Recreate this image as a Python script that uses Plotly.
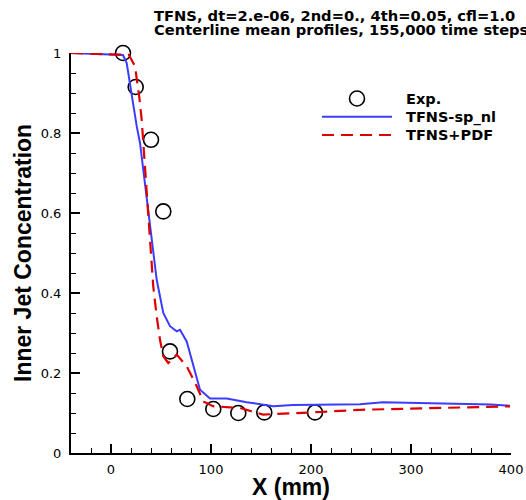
import plotly.graph_objects as go

# Experimental data
exp_x = [12, 24.7, 40, 52.3, 59, 76.3, 102.3, 127.3, 153.3, 204]
exp_y = [1.0, 0.915, 0.783, 0.604, 0.254, 0.135, 0.11, 0.10, 0.1015, 0.1015]

# TFNS-sp_nl (blue solid)
sp_x = [-40, 12, 15.7, 19, 22.3, 25.7, 29, 32.3, 35.7, 39, 45.7, 52.3, 59, 65.7, 69, 75.7,
        82.3, 89, 99, 115.7, 135.7, 152.3, 162.3, 182, 215, 249, 272, 316, 349, 380, 399]
sp_y = [1.0, 0.995, 0.975, 0.92, 0.867, 0.817, 0.775, 0.708, 0.625, 0.558, 0.433, 0.35, 0.317,
        0.304, 0.308, 0.279, 0.217, 0.158, 0.136, 0.136, 0.127, 0.121, 0.117, 0.12, 0.121,
        0.122, 0.127, 0.125, 0.123, 0.121, 0.118]

# TFNS+PDF (red dashed)
pdf_x = [-40, 18, 24, 28.3, 30.7, 34, 37.3, 42.3, 45.7, 49, 52.3, 57.3, 65.7, 75.7, 85.7,
         92.3, 102, 129, 152, 176, 209, 249, 282, 349, 399]
pdf_y = [1.0, 0.995, 0.967, 0.89, 0.833, 0.708, 0.592, 0.415, 0.342, 0.283, 0.242, 0.225,
         0.246, 0.217, 0.167, 0.129, 0.117, 0.1125, 0.096, 0.098, 0.1025, 0.108, 0.11,
         0.115, 0.1167]

series_names = ["Exp.", "TFNS-sp_nl", "TFNS+PDF"]
title_lines = ["TFNS, dt=2.e-06, 2nd=0., 4th=0.05, cfl=1.0",
               "Centerline mean profiles, 155,000 time steps"]
x_title = "X (mm)"
y_title = "Inner Jet Concentration"

BLUE = "rgb(60,60,255)"
RED = "rgb(220,0,0)"
BOLD = "DejaVu Sans"
ARIALB = "Liberation Sans, Arial, sans-serif"

W, H = 526, 500
L, R, T, B = 71, 15, 53, 47
PW, PH = W - L - R, H - T - B


def px(x):
    return (x - L) / PW


def py(y):
    return (H - B - y) / PH


fig = go.Figure()
fig.add_trace(go.Scatter(x=exp_x, y=exp_y, mode="markers", name=series_names[0],
                         marker=dict(symbol="circle-open", size=15, color="black",
                                     line=dict(width=1.6, color="black")),
                         cliponaxis=False, showlegend=False))
fig.add_trace(go.Scatter(x=sp_x, y=sp_y, mode="lines", name=series_names[1],
                         line=dict(color=BLUE, width=2), cliponaxis=False, showlegend=False))
fig.add_trace(go.Scatter(x=pdf_x, y=pdf_y, mode="lines", name=series_names[2],
                         line=dict(color=RED, width=2.2, dash="12px,7px"),
                         cliponaxis=False, showlegend=False))

# manual legend (Tecplot style)
shapes = [
    dict(type="circle", xref="paper", yref="paper",
         x0=px(357 - 7.5), x1=px(357 + 7.5), y0=py(98.5 + 7.5), y1=py(98.5 - 7.5),
         line=dict(color="black", width=1.6)),
    dict(type="line", xref="paper", yref="paper", x0=px(322), x1=px(392),
         y0=py(116.7), y1=py(116.7), line=dict(color=BLUE, width=2)),
    dict(type="line", xref="paper", yref="paper", x0=px(322), x1=px(392),
         y0=py(135), y1=py(135), line=dict(color=RED, width=2.2, dash="12px,7px")),
]
annotations = []
for name, ypx in zip(series_names, [99.5, 117, 135]):
    annotations.append(dict(xref="paper", yref="paper", x=px(404), y=py(ypx),
                            xanchor="left", yanchor="middle", showarrow=False, text=name,
                            font=dict(family=BOLD, size=14.5, weight="bold", color="black")))
for line, ypx in zip(title_lines, [15.5, 30]):
    annotations.append(dict(xref="paper", yref="paper", x=px(152), y=py(ypx),
                            xanchor="left", yanchor="middle", showarrow=False, text=line,
                            font=dict(family=BOLD, size=14.7, weight="bold", color="black")))
annotations.append(dict(xref="paper", yref="paper", x=0.5, y=py(487), xanchor="center",
                        yanchor="middle", showarrow=False, text=x_title,
                        font=dict(family=ARIALB, size=23, weight="bold", color="black")))
annotations.append(dict(xref="paper", yref="paper", x=px(23), y=0.5, xanchor="center",
                        yanchor="middle", showarrow=False, text=y_title, textangle=-90,
                        font=dict(family=ARIALB, size=23, weight="bold", color="black")))

axis_common = dict(showgrid=False, zeroline=False, showline=True, linecolor="black",
                   linewidth=2, ticks="inside", ticklen=9, tickwidth=2, tickcolor="black",
                   automargin=False, tickfont=dict(family="DejaVu Sans", size=13, color="black"))

fig.update_layout(
    template="none",
    width=W, height=H,
    margin=dict(l=L, r=R, t=T, b=B, pad=0),
    plot_bgcolor="white", paper_bgcolor="white",
    showlegend=False,
    xaxis=dict(range=[-40, 400], tickmode="linear", tick0=0, dtick=100,
               minor=dict(dtick=20, tick0=0, ticks="inside", ticklen=5, tickwidth=1,
                          tickcolor="black"),
               ticklabelstandoff=3, **axis_common),
    yaxis=dict(range=[0, 1], tickmode="linear", tick0=0, dtick=0.2,
               minor=dict(dtick=0.05, tick0=0, ticks="inside", ticklen=5, tickwidth=1,
                          tickcolor="black"),
               ticklabelstandoff=5, **axis_common),
    shapes=shapes,
    annotations=annotations,
)

fig.write_html("out.html", config={"displayModeBar": False},
               post_script="document.body.style.margin='0';document.body.style.padding='0';")
